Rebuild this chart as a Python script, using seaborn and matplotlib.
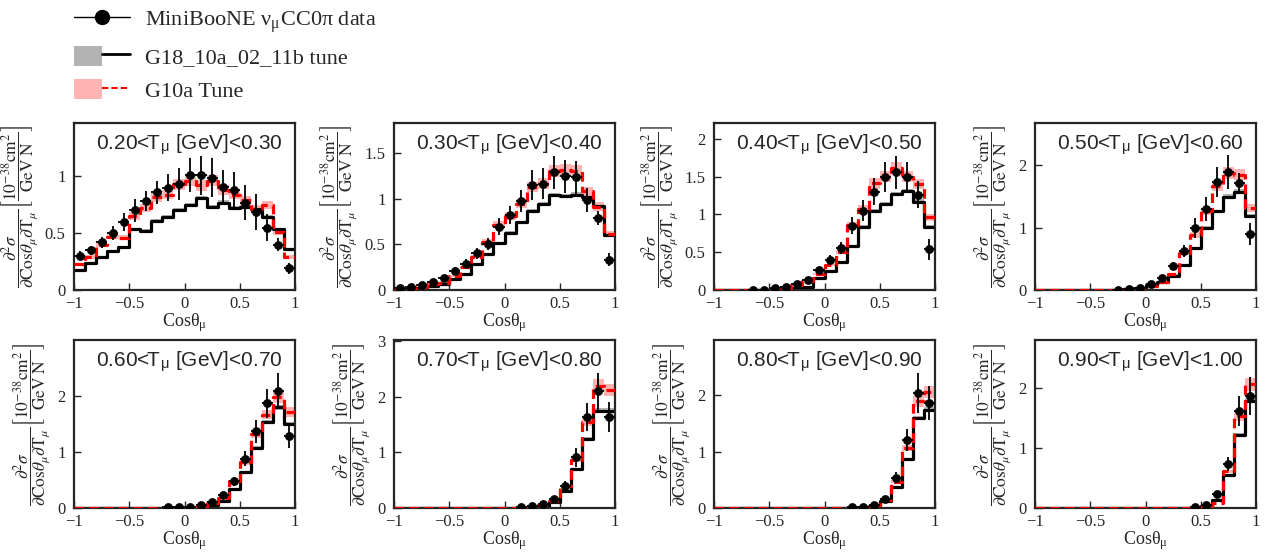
import numpy as np
import pandas as pd
import matplotlib
matplotlib.use("Agg")
import matplotlib.pyplot as plt
import seaborn as sns
from matplotlib.lines import Line2D
from matplotlib.patches import Patch
from matplotlib.legend_handler import HandlerTuple
from matplotlib.ticker import MultipleLocator, FuncFormatter

sns.set_style("ticks")
plt.rcParams["font.family"] = ["Liberation Serif", "DejaVu Serif"]
plt.rcParams["mathtext.fontset"] = "stix"

nan = np.nan

# cos(theta_mu) binning: 20 bins of 0.1
edges = np.round(np.linspace(-1, 1, 21), 2)
centers = (edges[:-1] + edges[1:]) / 2

tmu_bins = ["0.20", "0.30", "0.40", "0.50", "0.60", "0.70", "0.80", "0.90", "1.00"]

# MiniBooNE data per T_mu slice
data_1 = [0.30, 0.35, 0.42, 0.50, 0.60, 0.70, 0.785, 0.86, 0.90, 0.93, 1.01, 1.01, 0.99, 0.91, 0.88, 0.77, 0.685, 0.55, 0.40, 0.19]
data_2 = [0.02, 0.03, 0.05, 0.085, 0.135, 0.21, 0.29, 0.40, 0.505, 0.695, 0.82, 0.98, 1.15, 1.165, 1.29, 1.245, 1.235, 0.99, 0.79, 0.33]
data_3 = [nan, nan, nan, 0.003, 0.005, 0.02, 0.045, 0.08, 0.13, 0.265, 0.40, 0.55, 0.85, 1.05, 1.30, 1.50, 1.555, 1.50, 1.26, 0.54]
data_4 = [nan, nan, nan, nan, nan, nan, nan, 0.005, 0.01, 0.04, 0.10, 0.20, 0.39, 0.63, 0.99, 1.30, 1.74, 1.89, 1.72, 0.90]
data_5 = [nan, nan, nan, nan, nan, nan, nan, nan, 0.01, 0.01, 0.02, 0.05, 0.11, 0.24, 0.475, 0.88, 1.365, 1.86, 2.08, 1.29]
data_6 = [nan, nan, nan, nan, nan, nan, nan, nan, nan, nan, nan, 0.01, 0.03, 0.07, 0.16, 0.40, 0.91, 1.63, 2.10, 1.63]
data_7 = [nan, nan, nan, nan, nan, nan, nan, nan, nan, nan, nan, nan, 0.02, 0.02, 0.06, 0.165, 0.54, 1.21, 2.04, 1.86]
data_8 = [nan, nan, nan, nan, nan, nan, nan, nan, nan, nan, nan, nan, nan, nan, 0.01, 0.055, 0.23, 0.73, 1.62, 1.87]

err_1 = [0.04, 0.04, 0.05, 0.06, 0.08, 0.10, 0.09, 0.10, 0.12, 0.14, 0.15, 0.17, 0.17, 0.15, 0.16, 0.15, 0.16, 0.12, 0.06, 0.05]
err_2 = [0.02, 0.02, 0.02, 0.03, 0.03, 0.04, 0.05, 0.06, 0.07, 0.09, 0.10, 0.12, 0.16, 0.17, 0.18, 0.18, 0.18, 0.13, 0.08, 0.07]
err_3 = [nan, nan, nan, 0.01, 0.01, 0.01, 0.02, 0.02, 0.03, 0.04, 0.06, 0.08, 0.11, 0.14, 0.18, 0.20, 0.22, 0.20, 0.18, 0.14]
err_4 = [nan, nan, nan, nan, nan, nan, nan, 0.01, 0.01, 0.02, 0.03, 0.04, 0.06, 0.10, 0.16, 0.20, 0.24, 0.27, 0.15, 0.18]
err_5 = [nan, nan, nan, nan, nan, nan, nan, nan, 0.01, 0.01, 0.01, 0.02, 0.03, 0.05, 0.08, 0.13, 0.20, 0.25, 0.32, 0.22]
err_6 = [nan, nan, nan, nan, nan, nan, nan, nan, nan, nan, nan, 0.01, 0.02, 0.03, 0.04, 0.08, 0.17, 0.25, 0.33, 0.27]
err_7 = [nan, nan, nan, nan, nan, nan, nan, nan, nan, nan, nan, nan, 0.01, 0.01, 0.02, 0.04, 0.10, 0.20, 0.35, 0.30]
err_8 = [nan, nan, nan, nan, nan, nan, nan, nan, nan, nan, nan, nan, nan, nan, 0.01, 0.02, 0.05, 0.12, 0.25, 0.32]

# GENIE G18_10a_02_11b tune
g18_1 = [0.18, 0.235, 0.29, 0.34, 0.38, 0.535, 0.52, 0.61, 0.64, 0.705, 0.75, 0.81, 0.73, 0.77, 0.72, 0.73, 0.71, 0.64, 0.535, 0.36]
g18_2 = [0.005, 0.01, 0.02, 0.045, 0.07, 0.12, 0.18, 0.285, 0.395, 0.51, 0.63, 0.74, 0.87, 0.945, 1.04, 1.03, 1.045, 1.015, 0.915, 0.605]
g18_3 = [0, 0, 0, 0, 0, 0, 0.01, 0.02, 0.045, 0.155, 0.25, 0.375, 0.58, 0.84, 1.04, 1.14, 1.27, 1.31, 1.17, 0.84]
g18_4 = [0, 0, 0, 0, 0, 0, 0, 0, 0.01, 0.04, 0.08, 0.13, 0.225, 0.40, 0.67, 1.0, 1.26, 1.50, 1.58, 1.19]
g18_5 = [0, 0, 0, 0, 0, 0, 0, 0, 0, 0, 0, 0.01, 0.05, 0.12, 0.34, 0.635, 1.07, 1.53, 1.79, 1.50]
g18_6 = [0, 0, 0, 0, 0, 0, 0, 0, 0, 0, 0, 0, 0.01, 0.03, 0.10, 0.31, 0.70, 1.245, 1.75, 1.75]
g18_7 = [0, 0, 0, 0, 0, 0, 0, 0, 0, 0, 0, 0, 0, 0.01, 0.03, 0.12, 0.365, 0.87, 1.60, 1.74]
g18_8 = [0, 0, 0, 0, 0, 0, 0, 0, 0, 0, 0, 0, 0, 0, 0.005, 0.03, 0.14, 0.555, 1.22, 1.79]

# GENIE G10a tune
g10_1 = [0.23, 0.29, 0.40, 0.47, 0.46, 0.65, 0.72, 0.82, 0.84, 0.93, 0.96, 0.92, 0.96, 0.88, 0.84, 0.79, 0.71, 0.75, 0.51, 0.29]
g10_2 = [0.01, 0.02, 0.035, 0.07, 0.08, 0.155, 0.255, 0.365, 0.53, 0.715, 0.81, 0.945, 1.13, 1.165, 1.30, 1.32, 1.30, 1.08, 0.915, 0.615]
g10_3 = [0, 0, 0, 0, 0, 0.01, 0.02, 0.065, 0.125, 0.21, 0.33, 0.50, 0.86, 1.07, 1.41, 1.50, 1.61, 1.50, 1.40, 0.96]
g10_4 = [0, 0, 0, 0, 0, 0, 0, 0, 0.01, 0.04, 0.07, 0.13, 0.25, 0.59, 0.885, 1.26, 1.67, 1.88, 1.85, 1.31]
g10_5 = [0, 0, 0, 0, 0, 0, 0, 0, 0, 0, 0, 0.02, 0.09, 0.18, 0.475, 0.81, 1.32, 1.66, 1.97, 1.71]
g10_6 = [0, 0, 0, 0, 0, 0, 0, 0, 0, 0, 0, 0, 0.02, 0.06, 0.12, 0.39, 0.87, 1.545, 2.20, 2.125]
g10_7 = [0, 0, 0, 0, 0, 0, 0, 0, 0, 0, 0, 0, 0, 0.01, 0.05, 0.15, 0.47, 1.06, 1.89, 2.06]
g10_8 = [0, 0, 0, 0, 0, 0, 0, 0, 0, 0, 0, 0, 0, 0, 0.005, 0.02, 0.08, 0.61, 1.535, 2.06]

data_all = [data_1, data_2, data_3, data_4, data_5, data_6, data_7, data_8]
err_all = [err_1, err_2, err_3, err_4, err_5, err_6, err_7, err_8]
g18_all = [g18_1, g18_2, g18_3, g18_4, g18_5, g18_6, g18_7, g18_8]
g10_all = [g10_1, g10_2, g10_3, g10_4, g10_5, g10_6, g10_7, g10_8]
ymax = [1.47, 1.83, 2.21, 2.68, 2.99, 3.02, 2.98, 2.80]
ystep = [0.5, 0.5, 0.5, 1, 1, 1, 1, 1]

PINK = "#ffb3b3"
GREY = "#b3b3b3"

fig = plt.figure(figsize=(12.68, 5.54), dpi=100)
W, H = 1268, 554
lefts = [74, 394, 714, 1035]
rows = [(123, 290), (340, 508)]

ylab = (r"$\dfrac{\partial^{2}\sigma}{\partial\mathrm{Cos}\theta_{\mu}\partial\mathrm{T}_{\mu}}"
        r"\left[\dfrac{10^{-38}\mathrm{cm}^{2}}{\mathrm{GeV\;N}}\right]$")
fmt = FuncFormatter(lambda v, p: f"{v:g}".replace("-", "\u2212"))

for i in range(8):
    r, c = divmod(i, 4)
    top, bot = rows[r]
    ax = fig.add_axes([lefts[c] / W, 1 - bot / H, 221 / W, (bot - top) / H])

    g18 = np.array(g18_all[i])
    g10 = np.array(g10_all[i])
    df = pd.DataFrame({"cos": centers, "g18": g18, "g10": g10})

    # uncertainty bands
    ax.fill_between(edges, np.append(g18 * 0.975, g18[-1] * 0.975), np.append(g18 * 1.025, g18[-1] * 1.025),
                    step="post", color=GREY, lw=0, zorder=1)
    ax.fill_between(edges, np.append(g10 * 0.95, g10[-1] * 0.95), np.append(g10 * 1.05, g10[-1] * 1.05),
                    step="post", color=PINK, lw=0, zorder=1)

    sns.histplot(data=df, x="cos", weights="g18", bins=list(edges), element="step", fill=False,
                 color="black", linewidth=2.3, ax=ax, zorder=2)
    sns.histplot(data=df, x="cos", weights="g10", bins=list(edges), element="step", fill=False,
                 color="red", linewidth=2.3, linestyle=(0, (3, 1.6)), ax=ax, zorder=3)

    y = np.array(data_all[i])
    e = np.array(err_all[i])
    ax.errorbar(centers, y, yerr=e, xerr=0.05, fmt="none", ecolor="black", elinewidth=1.3, zorder=4)
    sns.scatterplot(x=centers, y=y, color="black", s=34, edgecolor="black", ax=ax, zorder=5)

    ax.set_xlim(-1, 1)
    ax.set_ylim(0, ymax[i])
    ax.xaxis.set_major_locator(MultipleLocator(0.5))
    ax.yaxis.set_major_locator(MultipleLocator(ystep[i]))
    ax.xaxis.set_major_formatter(fmt)
    ax.yaxis.set_major_formatter(fmt)
    ax.tick_params(direction="in", length=5, width=1, labelsize=12, top=False, right=False)
    ax.tick_params(axis="x", pad=4)
    ax.tick_params(axis="y", pad=6)
    for s in ax.spines.values():
        s.set_visible(True)
        s.set_linewidth(1.6)

    ax.set_xlabel("Cos\u03b8$_\\mathregular{\u03bc}$", fontsize=13, labelpad=0)
    ax.set_ylabel(ylab, fontsize=12.5, labelpad=3)
    ax.text(0.52, 0.87, f"{tmu_bins[i]}<T$_\\mathregular{{\u03bc}}$ [GeV]<{tmu_bins[i + 1]}",
            transform=ax.transAxes, ha="center", va="center", fontsize=15,
            family=["Liberation Sans", "DejaVu Sans"])

handles = [
    Line2D([], [], color="black", marker="o", ms=10, lw=1),
    (Patch(facecolor=GREY, edgecolor="none"), Line2D([], [], color="black", lw=2)),
    (Patch(facecolor=PINK, edgecolor="none"), Line2D([], [], color="red", lw=1.5, ls=(0, (3, 1.5)))),
]
labels = ["MiniBooNE \u03bd$_\\mathregular{\u03bc}$CC0\u03c0 data", "G18_10a_02_11b tune", "G10a Tune"]
fig.legend(handles, labels, handler_map={tuple: HandlerTuple(ndivide=None, pad=0)},
           loc="upper left", bbox_to_anchor=(74 / W, 1 - 8 / H), borderpad=0, borderaxespad=0,
           frameon=False, fontsize=16, handlelength=2.5, handleheight=1.0,
           labelspacing=0.5, handletextpad=0.7)

fig.savefig("out.png", dpi=100)
